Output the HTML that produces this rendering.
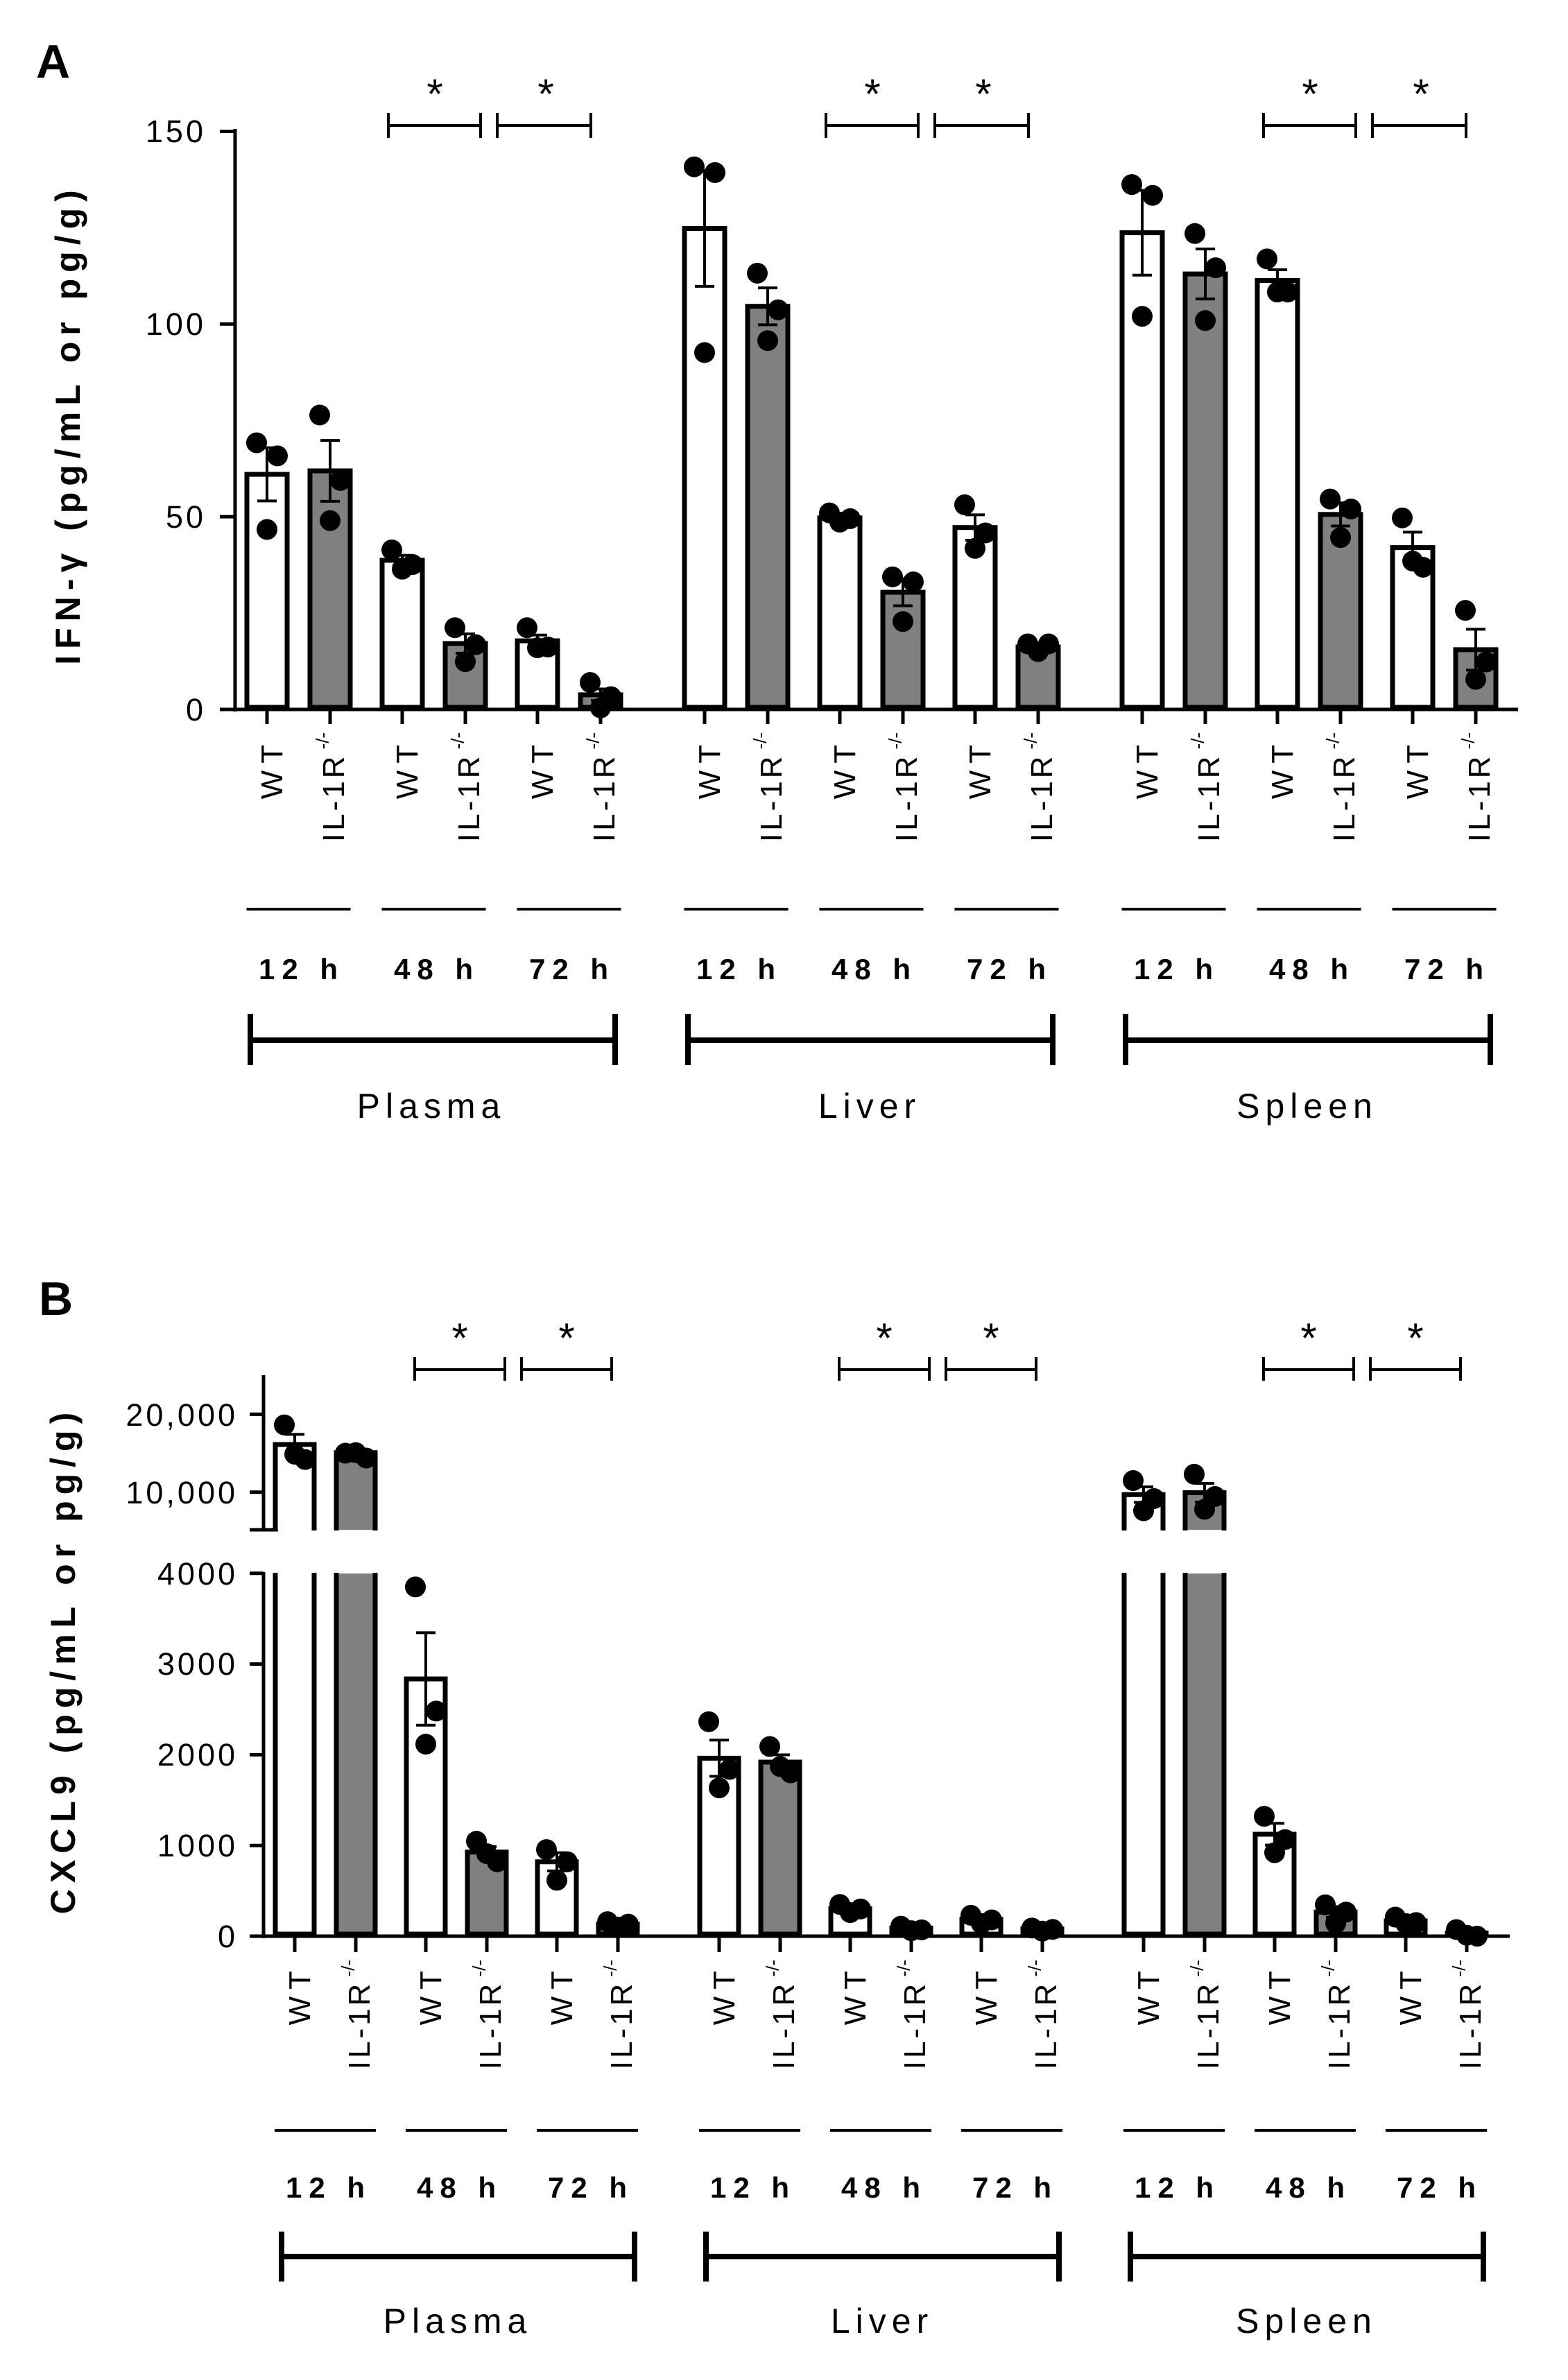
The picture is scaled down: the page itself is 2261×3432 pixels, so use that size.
<!DOCTYPE html>
<html><head><meta charset="utf-8"><style>
html,body{margin:0;padding:0;background:#fff;}
svg{display:block;font-family:"Liberation Sans",Arial,sans-serif;}
.tk{font-size:45px;letter-spacing:4px;}
.xl{font-size:44px;letter-spacing:10px;}
.il{letter-spacing:4px;}
.sp{font-size:26px;letter-spacing:0;}
.tm{font-size:42px;font-weight:bold;letter-spacing:10px;}
.org{font-size:50px;letter-spacing:8px;}
.yl{font-size:50px;font-weight:bold;letter-spacing:9px;}
.pl{font-size:68px;font-weight:bold;}
.st{font-size:60px;}
</style></head><body>
<svg id="s" width="2261" height="3432" viewBox="0 0 2261 3432" xmlns="http://www.w3.org/2000/svg">
<rect width="2261" height="3432" fill="#fff"/>
<g id="shapes"></g>
<text class="pl" x="52" y="112">A</text>
<text class="pl" x="56" y="1896">B</text>
<text class="yl" transform="translate(115,612) rotate(-90)" text-anchor="middle">IFN-γ (pg/mL or pg/g)</text>
<text class="yl" transform="translate(108,2394) rotate(-90)" text-anchor="middle">CXCL9 (pg/mL or pg/g)</text>
<text class="tk" x="297" y="1039" text-anchor="end">0</text>
<text class="tk" x="297" y="761" text-anchor="end">50</text>
<text class="tk" x="297" y="483" text-anchor="end">100</text>
<text class="tk" x="297" y="205" text-anchor="end">150</text>
<text class="tk" x="343" y="2808" text-anchor="end">0</text>
<text class="tk" x="343" y="2677" text-anchor="end">1000</text>
<text class="tk" x="343" y="2546" text-anchor="end">2000</text>
<text class="tk" x="343" y="2415" text-anchor="end">3000</text>
<text class="tk" x="343" y="2285" text-anchor="end">4000</text>
<text class="tk" x="343" y="2168" text-anchor="end">10,000</text>
<text class="tk" x="343" y="2056" text-anchor="end">20,000</text>
<g class="st" text-anchor="middle">
<text x="627" y="156">*</text><text x="787" y="156">*</text>
<text x="1258" y="156">*</text><text x="1418" y="156">*</text>
<text x="1889" y="156">*</text><text x="2049" y="156">*</text>
<text x="663" y="1950">*</text><text x="817" y="1950">*</text>
<text x="1275" y="1950">*</text><text x="1429" y="1950">*</text>
<text x="1887" y="1950">*</text><text x="2041" y="1950">*</text>
</g>
<g class="xl" text-anchor="end">
<text transform="translate(407,1064) rotate(-90)">WT</text>
<text class="il" transform="translate(496,1056) rotate(-90)">IL-1R<tspan class="sp" dx="6" dy="-22">-/-</tspan></text>
<text transform="translate(602,1064) rotate(-90)">WT</text>
<text class="il" transform="translate(691,1056) rotate(-90)">IL-1R<tspan class="sp" dx="6" dy="-22">-/-</tspan></text>
<text transform="translate(797,1064) rotate(-90)">WT</text>
<text class="il" transform="translate(886,1056) rotate(-90)">IL-1R<tspan class="sp" dx="6" dy="-22">-/-</tspan></text>
<text transform="translate(1038,1064) rotate(-90)">WT</text>
<text class="il" transform="translate(1127,1056) rotate(-90)">IL-1R<tspan class="sp" dx="6" dy="-22">-/-</tspan></text>
<text transform="translate(1233,1064) rotate(-90)">WT</text>
<text class="il" transform="translate(1322,1056) rotate(-90)">IL-1R<tspan class="sp" dx="6" dy="-22">-/-</tspan></text>
<text transform="translate(1428,1064) rotate(-90)">WT</text>
<text class="il" transform="translate(1517,1056) rotate(-90)">IL-1R<tspan class="sp" dx="6" dy="-22">-/-</tspan></text>
<text transform="translate(1669,1064) rotate(-90)">WT</text>
<text class="il" transform="translate(1758,1056) rotate(-90)">IL-1R<tspan class="sp" dx="6" dy="-22">-/-</tspan></text>
<text transform="translate(1864,1064) rotate(-90)">WT</text>
<text class="il" transform="translate(1953,1056) rotate(-90)">IL-1R<tspan class="sp" dx="6" dy="-22">-/-</tspan></text>
<text transform="translate(2059,1064) rotate(-90)">WT</text>
<text class="il" transform="translate(2148,1056) rotate(-90)">IL-1R<tspan class="sp" dx="6" dy="-22">-/-</tspan></text>
</g>
<g class="xl" text-anchor="end">
<text transform="translate(447,2832) rotate(-90)">WT</text>
<text class="il" transform="translate(533,2826) rotate(-90)">IL-1R<tspan class="sp" dx="6" dy="-22">-/-</tspan></text>
<text transform="translate(636,2832) rotate(-90)">WT</text>
<text class="il" transform="translate(722,2826) rotate(-90)">IL-1R<tspan class="sp" dx="6" dy="-22">-/-</tspan></text>
<text transform="translate(825,2832) rotate(-90)">WT</text>
<text class="il" transform="translate(911,2826) rotate(-90)">IL-1R<tspan class="sp" dx="6" dy="-22">-/-</tspan></text>
<text transform="translate(1059,2832) rotate(-90)">WT</text>
<text class="il" transform="translate(1145,2826) rotate(-90)">IL-1R<tspan class="sp" dx="6" dy="-22">-/-</tspan></text>
<text transform="translate(1248,2832) rotate(-90)">WT</text>
<text class="il" transform="translate(1334,2826) rotate(-90)">IL-1R<tspan class="sp" dx="6" dy="-22">-/-</tspan></text>
<text transform="translate(1437,2832) rotate(-90)">WT</text>
<text class="il" transform="translate(1523,2826) rotate(-90)">IL-1R<tspan class="sp" dx="6" dy="-22">-/-</tspan></text>
<text transform="translate(1671,2832) rotate(-90)">WT</text>
<text class="il" transform="translate(1757,2826) rotate(-90)">IL-1R<tspan class="sp" dx="6" dy="-22">-/-</tspan></text>
<text transform="translate(1860,2832) rotate(-90)">WT</text>
<text class="il" transform="translate(1946,2826) rotate(-90)">IL-1R<tspan class="sp" dx="6" dy="-22">-/-</tspan></text>
<text transform="translate(2049,2832) rotate(-90)">WT</text>
<text class="il" transform="translate(2135,2826) rotate(-90)">IL-1R<tspan class="sp" dx="6" dy="-22">-/-</tspan></text>
</g>
<g class="tm" text-anchor="middle">
<text x="435" y="1412">12 h</text><text x="630" y="1412">48 h</text><text x="825" y="1412">72 h</text>
<text x="1066" y="1412">12 h</text><text x="1261" y="1412">48 h</text><text x="1456" y="1412">72 h</text>
<text x="1697" y="1412">12 h</text><text x="1892" y="1412">48 h</text><text x="2087" y="1412">72 h</text>
<text x="474" y="3169">12 h</text><text x="663" y="3169">48 h</text><text x="852" y="3169">72 h</text>
<text x="1086" y="3169">12 h</text><text x="1275" y="3169">48 h</text><text x="1464" y="3169">72 h</text>
<text x="1698" y="3169">12 h</text><text x="1887" y="3169">48 h</text><text x="2076" y="3169">72 h</text>
</g>
<g class="org" text-anchor="middle">
<text x="622" y="1612">Plasma</text><text x="1254" y="1612">Liver</text><text x="1885" y="1612">Spleen</text>
<text x="660" y="3364">Plasma</text><text x="1272" y="3364">Liver</text><text x="1884" y="3364">Spleen</text>
</g>
</svg>
<script>
(function(){
var NS="http://www.w3.org/2000/svg",g=document.getElementById("shapes");
function el(t,a){var e=document.createElementNS(NS,t);for(var k in a)e.setAttribute(k,a[k]);g.appendChild(e);return e;}
function ln(x1,y1,x2,y2,w){el("line",{x1:x1,y1:y1,x2:x2,y2:y2,stroke:"#000","stroke-width":w});}
ln(339,186,339,1026,5);ln(337,1023,2189,1023,5);
[0,50,100,150].forEach(function(v){var y=1023-v*5.557;ln(317,y,339,y,5);});
var A=[[[61,6.9,[69.2,65.8,46.7]],[61.9,7.9,[76.4,59.4,49]],[38.7,1.3,[41.4,37.6,36.4]],[17.1,2.5,[21.2,16.8,12.4]],[17.8,1.5,[21.2,16.2,16]],[3.8,1.5,[7,3.3,0.4]]],
[[124.8,15,[140.8,139.3,92.6]],[104.6,4.8,[113.2,103.7,95.7]],[49.7,0.6,[51,49.5,48.6]],[30.4,3.5,[34.4,33.1,22.8]],[47.2,3.3,[53.1,45.8,41.8]],[16.2,0.8,[17,17,15]]],
[[123.7,11,[136.2,133.4,102]],[113,6.5,[123.5,114.6,100.9]],[111.3,2.8,[116.9,108.3,108.3]],[50.6,3,[54.6,52,44.6]],[42,4,[49.7,36.9,38.5]],[15.5,5.3,[25.7,12.3,7.8]]]];
var offs=[-15,15,0];
function yA(v){return 1023-v*5.557;}
for(var o=0;o<3;o++)for(var i=0;i<6;i++){
 var p=Math.floor(i/2),gg=i%2,x=385+631*o+195*p+91*gg,d=A[o][i],w=58;
 var t=yA(d[0]);
 el("rect",{x:x-w/2,y:t,width:w,height:1020-t,fill:gg?"#808080":"#fff",stroke:"#000","stroke-width":7});
 ln(x,yA(d[0]+d[1]),x,yA(d[0]-d[1]),4);ln(x-14,yA(d[0]+d[1]),x+14,yA(d[0]+d[1]),4);ln(x-14,yA(d[0]-d[1]),x+14,yA(d[0]-d[1]),4);
 ln(x,1023,x,1044,5);
 d[2].forEach(function(v,k){el("circle",{cx:x+offs[k],cy:yA(v),r:15,fill:"#000"});});
}
for(var o=0;o<3;o++){var b=580+631*o;
 [[b-20,b+113],[b+137,b+272]].forEach(function(s){ln(s[0],181,s[1],181,4);ln(s[0],163,s[0],199,4);ln(s[1],163,s[1],199,4);});
 var c=385+631*o;
 for(var p=0;p<3;p++){var m=c+195*p+45.5;ln(m-75,1311,m+75,1311,4);}
 var l=c-24,r=c+481+21;ln(l,1500,r,1500,8);ln(l,1462,l,1536,8);ln(r,1462,r,1536,8);
}
function yB(v){return v<=4500?2792-v*0.1308:2151.7-(v-10000)*0.01123;}
ln(380,1983,380,2208,5);ln(360,2206,401,2206,5);ln(380,2267,380,2795,5);ln(378,2792,2177,2792,5);
[0,1000,2000,3000,4000].forEach(function(v){ln(360,yB(v),380,yB(v),5);});
[10000,20000].forEach(function(v){ln(360,yB(v),380,yB(v),5);});
var B=[[[16117,1300,[18630,14190,14870]],[15070,150,[15000,14380,15070]],[2836,510,[3850,2482,2117]],[927,60,[1047,820,910]],[820,100,[955,820,616]],[133,20,[160,133,100]]],
[[1962,200,[2364,1839,1635]],[1919,80,[2091,1800,1870]],[303,25,[350,300,260]],[89,20,[110,70,60]],[185,25,[230,180,140]],[80,10,[90,75,55]]],
[[9680,1000,[11490,9170,7610]],[9930,1200,[12300,9440,7800]],[1124,120,[1322,1065,920]],[266,60,[346,266,142]],[169,25,[210,150,140]],[35,20,[73,0,10]]]];
for(var o=0;o<3;o++)for(var i=0;i<6;i++){
 var p=Math.floor(i/2),gg=i%2,x=425+612*o+189*p+88*gg,d=B[o][i],w=56,f=gg?"#808080":"#fff";
 var t=yB(d[0]);
 if(d[0]>4500){
  el("rect",{x:x-w/2,y:t,width:w,height:2206-t,fill:f});
  el("path",{d:"M"+(x-w/2)+",2207V"+t+"H"+(x+w/2)+"V2207",fill:"none",stroke:"#000","stroke-width":7});
  el("rect",{x:x-w/2,y:2269,width:w,height:520,fill:f});
  el("path",{d:"M"+(x-w/2)+",2268V2789H"+(x+w/2)+"V2268",fill:"none",stroke:"#000","stroke-width":7});
 } else {
  el("rect",{x:x-w/2,y:t,width:w,height:2789-t,fill:f,stroke:"#000","stroke-width":7});
 }
 ln(x,yB(d[0]+d[1]),x,yB(d[0]-d[1]),4);ln(x-14,yB(d[0]+d[1]),x+14,yB(d[0]+d[1]),4);ln(x-14,yB(d[0]-d[1]),x+14,yB(d[0]-d[1]),4);
 ln(x,2792,x,2815,5);
 d[2].forEach(function(v,k){el("circle",{cx:x+offs[k],cy:yB(v),r:15,fill:"#000"});});
}
for(var o=0;o<3;o++){var b=614+612*o;
 [[b-16,b+114],[b+138,b+268]].forEach(function(s){ln(s[0],1975,s[1],1975,4);ln(s[0],1957,s[0],1991,4);ln(s[1],1957,s[1],1991,4);});
 var c=425+612*o;
 for(var p=0;p<3;p++){var m=c+189*p+44;ln(m-73,3072,m+73,3072,4);}
 var l=c-19,r=c+466+24;ln(l,3254,r,3254,8);ln(l,3218,l,3290,8);ln(r,3218,r,3290,8);
}
})();
</script>
</body></html>
